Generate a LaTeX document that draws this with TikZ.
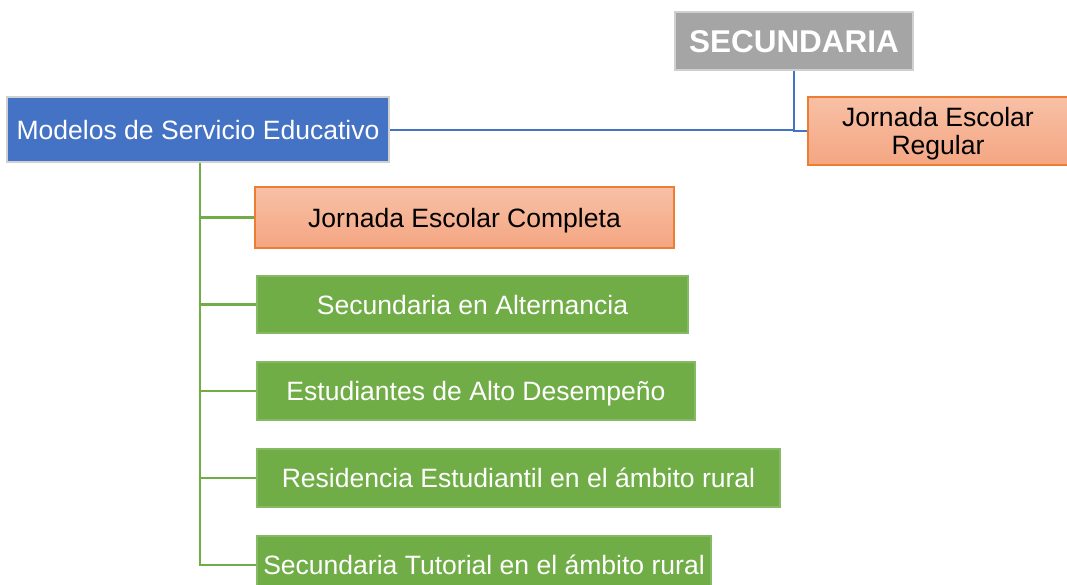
\documentclass[tikz,border=0pt]{standalone}
\usepackage{fontspec}
\setmainfont{Liberation Sans}
\definecolor{bluef}{HTML}{4472C4}
\definecolor{greenf}{HTML}{70AD47}
\definecolor{greyf}{HTML}{A5A5A5}
\definecolor{greyb}{HTML}{D0D0D0}
\definecolor{orangeb}{HTML}{ED7D31}
\definecolor{orangetop}{HTML}{F8C0A6}
\definecolor{orangebot}{HTML}{F4A682}
\begin{document}
\begin{tikzpicture}[x=0.75pt,y=-0.75pt,
  box/.style={rectangle,inner sep=0pt,align=center,font=\fontsize{19.9}{21}\selectfont},
  oneline/.style={text height=14.3pt,text depth=0pt},
  bluebox/.style={box,oneline,fill=bluef,draw=greyb,line width=1.5pt,text=white},
  greybox/.style={box,fill=greyf,draw=greyb,line width=0.8pt,text=white,font=\fontsize{23.6}{26}\selectfont\bfseries,text height=16.9pt,text depth=0pt},
  orangebox/.style={box,top color=orangetop,bottom color=orangebot,draw=orangeb,line width=0.8pt,text=black},
  greenbox/.style={box,oneline,fill=greenf,draw=greenf!85!white,line width=0.8pt,text=white},
  blueline/.style={draw=bluef,line width=1.5pt},
  greenline/.style={draw=greenf,line width=2.2pt}]
\useasboundingbox[fill=white] (0,0) rectangle (1067,585);
\node[greybox,minimum width=238*0.75pt,minimum height=58*0.75pt] (sec) at (794,41) {SECUNDARIA};
\node[bluebox,minimum width=382*0.75pt,minimum height=65*0.75pt] (mod) at (198,129.5) {Modelos de Servicio Educativo};
\node[orangebox,minimum width=260*0.75pt,minimum height=68*0.75pt] (jer) at (938,131) {};
\node[font=\fontsize{19.9}{21}\selectfont,align=center,inner sep=0pt] (jert) at (938,133.5) {Jornada Escolar\\Regular};
\node[orangebox,oneline,minimum width=419*0.75pt,minimum height=61*0.75pt] (jec) at (464.5,217.5) {Jornada Escolar Completa};
\node[greenbox,minimum width=431*0.75pt,minimum height=57*0.75pt] (alt) at (472.5,304.5) {Secundaria en Alternancia};
\node[greenbox,minimum width=438*0.75pt,minimum height=58*0.75pt] (ade) at (476,391) {Estudiantes de Alto Desempeño};
\node[greenbox,minimum width=523*0.75pt,minimum height=58*0.75pt] (res) at (518.5,478) {Residencia Estudiantil en el ámbito rural};
\node[greenbox,minimum width=454*0.75pt,minimum height=58*0.75pt] (tut) at (484,565) {Secundaria Tutorial en el ámbito rural};
\coordinate (j) at (794,131);
\coordinate (t) at (200,0);
\draw[blueline] (mod.east) -- (mod.east -| j);
\draw[blueline] (sec.south) |- (jer.west);
\draw[greenline] (t |- mod.south) |- (tut.west);
\foreach \n in {jec,alt,ade,res}{\draw[greenline] (\n.west) -- (\n.west -| t);}
\end{tikzpicture}
\end{document}
